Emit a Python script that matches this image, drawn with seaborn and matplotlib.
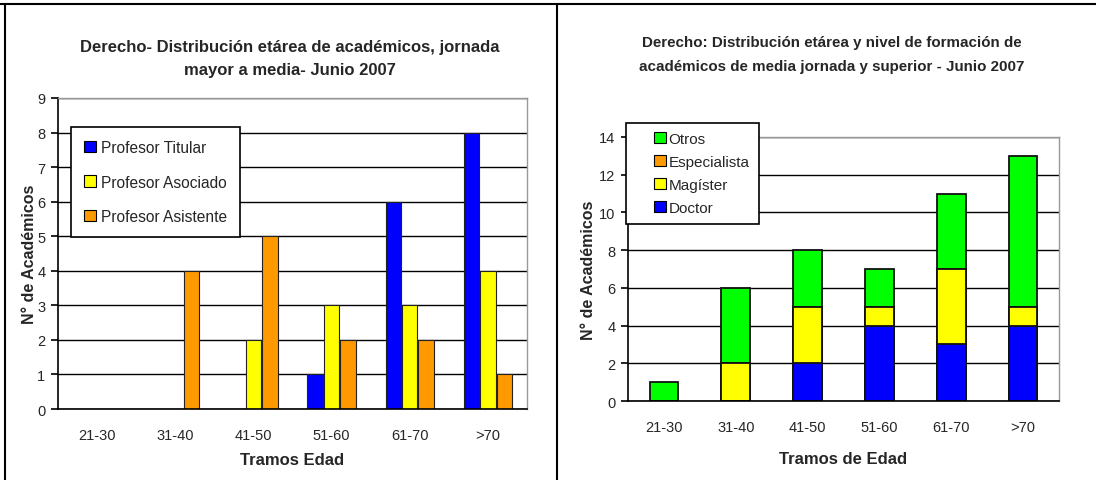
import numpy as np
import pandas as pd
import matplotlib
matplotlib.use("Agg")
import matplotlib.pyplot as plt
from matplotlib.patches import Patch, Rectangle
from matplotlib.lines import Line2D
from matplotlib.legend_handler import HandlerPatch
from matplotlib import font_manager
import seaborn as sns

# ---------------- data ----------------
tramos = ["21-30", "31-40", "41-50", "51-60", "61-70", ">70"]

titular = [0, 0, 0, 1, 6, 8]
asociado = [0, 0, 2, 3, 3, 4]
asistente = [0, 4, 5, 2, 2, 1]
series_left = ["Profesor Titular", "Profesor Asociado", "Profesor Asistente"]

doctor = [0, 0, 2, 4, 3, 4]
magister = [0, 2, 3, 1, 4, 1]
especialista = [0, 0, 0, 0, 0, 0]
otros = [1, 4, 3, 2, 4, 8]
series_right = ["Otros", "Especialista", "Magíster", "Doctor"]

title_left = "Derecho- Distribución etárea de académicos, jornada\nmayor a media- Junio 2007"
title_right = "Derecho: Distribución etárea y nivel de formación de\nacadémicos de media jornada y superior - Junio 2007"

BLUE, YELLOW, ORANGE, GREEN = "#0000FF", "#FFFF00", "#FF9900", "#00FF00"

sns.set_theme(style="white")
names = {f.name for f in font_manager.fontManager.ttflist}
narrow = "Liberation Sans Narrow" if "Liberation Sans Narrow" in names else "Liberation Sans"
plt.rcParams["font.family"] = [narrow, "DejaVu Sans"]

W, H = 1096, 481
fig = plt.figure(figsize=(W / 100, H / 100), dpi=100)
fig.patch.set_facecolor("white")


def px_axes(x0, y0, x1, y1):
    return fig.add_axes([x0 / W, 1 - y1 / H, (x1 - x0) / W, (y1 - y0) / H])


def style_axes(ax, ymax, step):
    ax.set_xlim(-0.5, len(tramos) - 0.5)
    ax.set_ylim(0, ymax)
    ax.set_yticks(np.arange(0, ymax + 0.01, step))
    ax.yaxis.grid(True, color="black", linewidth=1.0)
    ax.xaxis.grid(False)
    ax.set_axisbelow(True)
    for s in ["top", "right"]:
        ax.spines[s].set_color("#999999")
        ax.spines[s].set_linewidth(1.0)
    for s in ["left", "bottom"]:
        ax.spines[s].set_color("black")
        ax.spines[s].set_linewidth(1.2)
    ax.set_xticks(range(len(tramos)))
    ax.set_xticklabels(tramos)
    ax.set_xticks(np.arange(-0.5, len(tramos), 1.0), minor=True)
    ax.tick_params(axis="x", which="major", length=0, pad=14, labelsize=10.5)
    ax.tick_params(axis="x", which="minor", length=5, width=1.2, color="black", direction="out")
    ax.tick_params(axis="y", length=5, width=1.2, color="black", direction="out",
                   labelsize=10.5, pad=4, left=True)


def square_right(legend, orig_handle, xdescent, ydescent, width, height, fontsize):
    return Rectangle((-xdescent + width - height, -ydescent), height, height)


# ---------------- left chart ----------------
axL = px_axes(58, 99, 527, 410)
dfL = pd.DataFrame({
    "Tramo": tramos * 3,
    "Serie": sum([[s] * len(tramos) for s in series_left], []),
    "Valor": titular + asociado + asistente,
})
sns.barplot(data=dfL, x="Tramo", y="Valor", hue="Serie", hue_order=series_left,
            palette=[BLUE, YELLOW, ORANGE], width=0.63, gap=0.06,
            edgecolor="#222222", linewidth=0.8, saturation=1, ax=axL, legend=False)
style_axes(axL, 9, 1)
axL.set_xlabel("Tramos Edad", fontsize=12, fontweight="bold", labelpad=7)
axL.set_ylabel("N° de Académicos", fontsize=11.5, fontweight="bold",
               family="Liberation Sans", labelpad=0)
fig.text(290 / W, 1 - 59 / H, title_left, ha="center", va="center",
         fontsize=12, fontweight="bold", linespacing=1.7)
handlesL = [Patch(facecolor=c, edgecolor="black", linewidth=0.8) for c in [BLUE, YELLOW, ORANGE]]
legL = axL.legend(handlesL, series_left, loc="upper left", bbox_to_anchor=(0.028, 0.907),
                  borderaxespad=0, frameon=True, fancybox=False, fontsize=11.2,
                  handlelength=0.75, handleheight=0.75, handletextpad=0.3,
                  labelspacing=1.25, borderpad=0.85)
legL.get_frame().set_edgecolor("black")
legL.get_frame().set_linewidth(1.2)
legL.get_frame().set_alpha(1)

# ---------------- right chart ----------------
axR = px_axes(628, 138, 1059, 402)
d = np.array(doctor)
m = np.array(magister)
e = np.array(especialista)
o = np.array(otros)
layers = [
    ("Otros", d + m + e + o, GREEN),
    ("Especialista", d + m + e, ORANGE),
    ("Magíster", d + m, YELLOW),
    ("Doctor", d, BLUE),
]
for name, vals, col in layers:
    sns.barplot(x=tramos, y=vals, color=col, width=0.4, edgecolor="#111111",
                linewidth=1.3, saturation=1, ax=axR)
style_axes(axR, 14, 2)
axR.set_xlabel("Tramos de Edad", fontsize=12, fontweight="bold", labelpad=12)
axR.set_ylabel("N° de Académicos", fontsize=11.5, fontweight="bold",
               family="Liberation Sans", labelpad=2)
fig.text(832 / W, 1 - 55 / H, title_right, ha="center", va="center",
         fontsize=10.9, fontweight="bold", linespacing=1.85)
handlesR = [Patch(facecolor=c, edgecolor="black", linewidth=0.8) for c in [GREEN, ORANGE, YELLOW, BLUE]]
legR = axR.legend(handlesR, series_right, loc="upper left", bbox_to_anchor=(-0.005, 1.053),
                  borderaxespad=0, frameon=True, fancybox=False, fontsize=11,
                  handlelength=2.0, handleheight=0.75, handletextpad=0.2,
                  labelspacing=0.58, borderpad=0.6,
                  handler_map={Patch: HandlerPatch(patch_func=square_right)})
legR.get_frame().set_edgecolor("black")
legR.get_frame().set_linewidth(1.2)
legR.get_frame().set_alpha(1)

# ---------------- frame lines ----------------
fig.add_artist(Line2D([0, 1], [1 - 5 / H, 1 - 5 / H], color="black", linewidth=1.5,
                      transform=fig.transFigure))
fig.add_artist(Line2D([5 / W, 5 / W], [0, 1 - 5 / H], color="black", linewidth=1.5,
                      transform=fig.transFigure))
fig.add_artist(Line2D([557 / W, 557 / W], [0, 1 - 5 / H], color="black", linewidth=1.5,
                      transform=fig.transFigure))

fig.savefig("out.png", dpi=100, facecolor="white")
